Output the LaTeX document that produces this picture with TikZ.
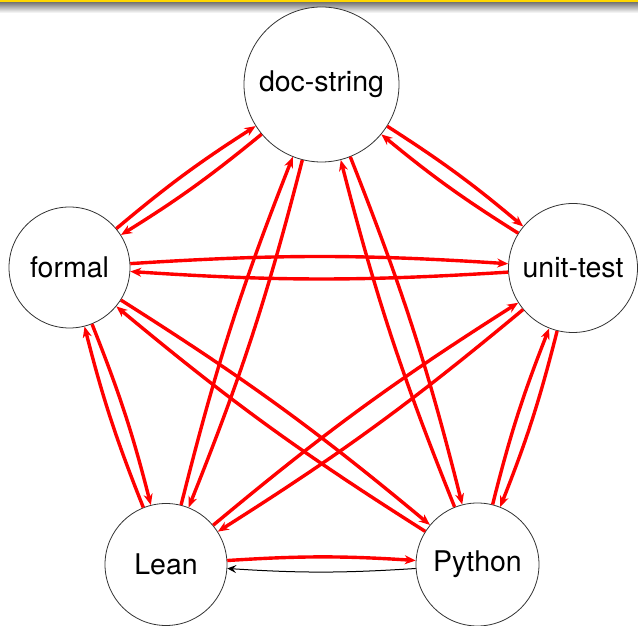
\documentclass[tikz,border=0pt]{standalone}
\usepackage{fontspec}
\setmainfont{TeX Gyre Heros}
\usetikzlibrary{arrows.meta}
\definecolor{bargold}{RGB}{255,215,0}
\begin{document}
\begin{tikzpicture}[x=1pt,y=1pt,
  state/.style={circle, draw=black!80, fill=white, line width=0.8pt, inner sep=0pt,
    font=\fontsize{28.5}{34}\selectfont},
  redarrow/.style={draw=red, line width=3.4pt, -{Stealth[length=11pt,width=9pt,inset=3.5pt]}, bend left=3.7},
  blackarrow/.style={draw=black, line width=1pt, -{Stealth[length=9pt,width=8pt,inset=3.5pt]}, bend left=3.7}]
\useasboundingbox (0,0) rectangle (638,626);
\fill[bargold] (0,623) rectangle (638,626);
\shade[top color=black!50, bottom color=white] (0,613) rectangle (638,623);

\node[state, minimum size=155pt] (doc) at (321.5,541.5) {doc-string};
\node[state, minimum size=121pt] (formal) at (69.5,358.5) {formal};
\node[state, minimum size=129pt] (unit) at (573,358) {unit-test};
\node[state, minimum size=122pt] (lean) at (166,61.5) {Lean};
\node[state, minimum size=123pt] (python) at (477.5,61.5) {Python};

\draw[redarrow] (doc) to (formal);
\draw[redarrow] (formal) to (doc);
\draw[redarrow] (doc) to (unit);
\draw[redarrow] (unit) to (doc);
\draw[redarrow] (formal) to (unit);
\draw[redarrow] (unit) to (formal);
\draw[redarrow] (doc) to (lean);
\draw[redarrow] (lean) to (doc);
\draw[redarrow] (doc) to (python);
\draw[redarrow] (python) to (doc);
\draw[redarrow] (formal) to (lean);
\draw[redarrow] (lean) to (formal);
\draw[redarrow] (formal) to (python);
\draw[redarrow] (python) to (formal);
\draw[redarrow] (unit) to (lean);
\draw[redarrow] (lean) to (unit);
\draw[redarrow] (unit) to (python);
\draw[redarrow] (python) to (unit);
\draw[redarrow] (lean) to (python);
\draw[blackarrow] (python) to (lean);
\end{tikzpicture}
\end{document}
